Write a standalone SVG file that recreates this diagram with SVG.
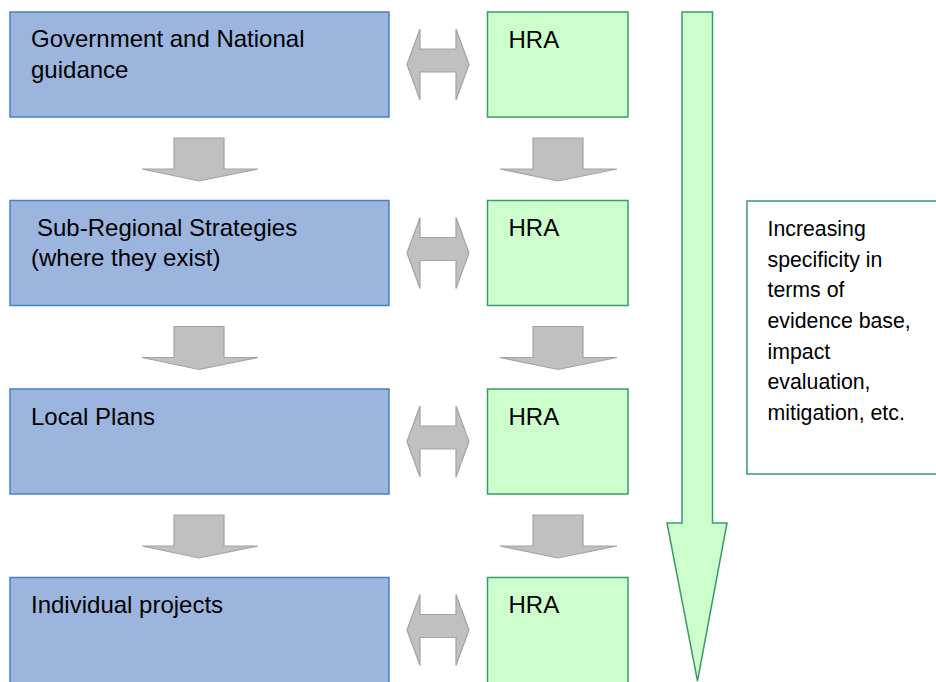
<svg xmlns="http://www.w3.org/2000/svg" xmlns:xlink="http://www.w3.org/1999/xlink" width="936" height="682" viewBox="0 0 936 682">
<style>
.blue{fill:#9bb5de;stroke:#4a7fc1;stroke-width:1.5}
.green{fill:#ccffcc;stroke:#3a9a68;stroke-width:1.5}
.gray{fill:#c0c0c0;stroke:#a3a3a3;stroke-width:1.2}
.t{font-family:"Liberation Sans",Arial,sans-serif;font-size:24px;fill:#000}
.s{font-family:"Liberation Sans",Arial,sans-serif;font-size:21.3px;fill:#000}
</style>
<defs>
<polygon id="dbl" class="gray" points="407,52.5 420,17 420,37 456,37 456,17 469,52.5 456,88 456,60 420,60 420,88"/>
<polygon id="downL" class="gray" points="174,0 224,0 224,31 258,31 199,43 142,31 174,31"/>
<polygon id="downR" class="gray" points="533,0 583,0 583,31 617,31 558,43 500,31 533,31"/>
</defs>
<rect width="936" height="682" fill="#fff"/>

<g id="gov">
<rect class="blue" x="10" y="12" width="379" height="105"/>
<text class="t" x="31" y="47">Government and National</text>
<text class="t" x="31" y="78">guidance</text>
</g>
<g id="hra1">
<rect class="green" x="487.5" y="12" width="140.5" height="105"/>
<text class="t" x="508.5" y="47.5">HRA</text>
</g>

<g id="subregional">
<rect class="blue" x="10" y="200.5" width="379" height="105"/>
<text class="t" x="37" y="235.5">Sub-Regional Strategies</text>
<text class="t" x="31" y="266">(where they exist)</text>
</g>
<g id="hra2">
<rect class="green" x="487.5" y="200.5" width="140.5" height="105"/>
<text class="t" x="508.5" y="236">HRA</text>
</g>

<g id="local">
<rect class="blue" x="10" y="389" width="379" height="105"/>
<text class="t" x="31" y="424.5">Local Plans</text>
</g>
<g id="hra3">
<rect class="green" x="487.5" y="389" width="140.5" height="105"/>
<text class="t" x="508.5" y="424.5">HRA</text>
</g>

<g id="projects">
<rect class="blue" x="10" y="577.5" width="379" height="107"/>
<text class="t" x="31" y="613">Individual projects</text>
</g>
<g id="hra4">
<rect class="green" x="487.5" y="577.5" width="140.5" height="107"/>
<text class="t" x="508.5" y="613">HRA</text>
</g>

<g id="specificity">
<rect class="green" x="747" y="201" width="195" height="273" fill="#fff" style="fill:#fff"/>
<text class="s" x="767.5" y="236">Increasing</text>
<text class="s" x="767.5" y="266.7">specificity in</text>
<text class="s" x="767.5" y="297.3">terms of</text>
<text class="s" x="767.5" y="328">evidence base,</text>
<text class="s" x="767.5" y="358.7">impact</text>
<text class="s" x="767.5" y="389.3">evaluation,</text>
<text class="s" x="767.5" y="420">mitigation, etc.</text>
</g>

<g id="connectors">
<use xlink:href="#dbl" y="12"/>
<use xlink:href="#dbl" y="200.5"/>
<use xlink:href="#dbl" y="389"/>
<use xlink:href="#dbl" y="577.5"/>
<use xlink:href="#downL" y="138"/>
<use xlink:href="#downL" y="326.5"/>
<use xlink:href="#downL" y="515"/>
<use xlink:href="#downR" y="138"/>
<use xlink:href="#downR" y="326.5"/>
<use xlink:href="#downR" y="515"/>
<polygon class="green" points="682,12 712.5,12 712.5,523 727,523 697.5,681 667,523 682,523"/>
</g>
</svg>
